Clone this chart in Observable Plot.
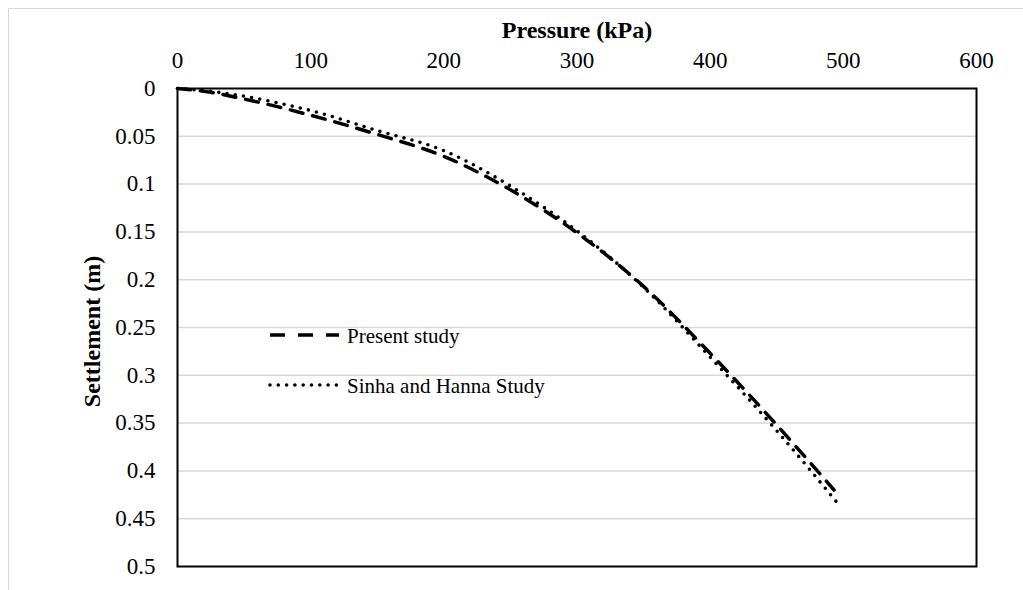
<!DOCTYPE html>
<html>
<head>
<meta charset="utf-8">
<script src="https://cdn.jsdelivr.net/npm/d3@7"></script>
<script src="https://cdn.jsdelivr.net/npm/@observablehq/plot@0.6"></script>
<style>
  html, body { margin: 0; padding: 0; background: #fff; overflow: hidden; }
  #wrap { position: relative; width: 1023px; height: 590px; overflow: hidden; }
  #border { position: absolute; left: 8px; top: 8px; width: 1200px; height: 800px;
            border: 1.5px solid #d9d9d9; box-sizing: border-box; }
  #chart { position: absolute; left: 0; top: 0; }
  #chart svg, #chart svg text { font-family: "Liberation Serif", "Times New Roman", serif !important; }
  #legend { position: absolute; left: 0; top: 0; pointer-events: none; }
</style>
</head>
<body>
<div id="wrap">
  <div id="border"></div>
  <div id="chart"></div>
  <svg id="legend" width="1023" height="590"></svg>
</div>
<script>
// Load–settlement curves: pressure (kPa) vs settlement (m)
const presentPressure = [0, 25, 50, 75, 100, 150, 200, 250, 300, 350, 400, 450, 493];
const presentSettlement = [0, 0.004, 0.011, 0.019, 0.028, 0.048, 0.071, 0.106, 0.151, 0.207, 0.277, 0.352, 0.420];

const sinhaPressure = [0, 25, 50, 75, 100, 150, 200, 250, 300, 350, 400, 450, 497];
const sinhaSettlement = [0, 0.003, 0.008, 0.015, 0.023, 0.044, 0.065, 0.102, 0.149, 0.208, 0.281, 0.358, 0.436];

const seriesNames = ["Present study", "Sinha and Hanna Study"];

const xTicks = [0, 100, 200, 300, 400, 500, 600];
const yTicks = [0, 0.05, 0.1, 0.15, 0.2, 0.25, 0.3, 0.35, 0.4, 0.45, 0.5];

const present = presentPressure.map((p, i) => ({p, s: presentSettlement[i]}));
const sinha = sinhaPressure.map((p, i) => ({p, s: sinhaSettlement[i]}));

const font = "Liberation Serif, Times New Roman, serif";

const chart = Plot.plot({
  width: 1023,
  height: 590,
  marginLeft: 177,
  marginRight: 47,
  marginTop: 88,
  marginBottom: 24,
  style: {fontSize: "23px", color: "#000", background: "transparent", overflow: "visible"},
  x: {domain: [0, 600]},
  y: {domain: [0, 0.5], reverse: true},
  marks: [
    Plot.gridY(yTicks.filter(d => d > 0 && d < 0.5), {stroke: "#d9d9d9", strokeOpacity: 1, strokeWidth: 1.5}),
    Plot.axisX(xTicks, {anchor: "top", tickSize: 0, tickPadding: 21, label: null, tickFormat: d3.format("~g"), fontSize: 23}),
    Plot.axisY(yTicks, {anchor: "left", tickSize: 0, tickPadding: 22, label: null, tickFormat: d3.format("~g"), fontSize: 23}),
    Plot.frame({stroke: "#000", strokeWidth: 2}),
    Plot.line(present, {x: "p", y: "s", curve: "monotone-x", stroke: "#000", strokeWidth: 3.5, strokeDasharray: "13,10"}),
    Plot.line(sinha, {x: "p", y: "s", curve: "monotone-x", stroke: "#000", strokeWidth: 3.6, strokeDasharray: "0,8.3", strokeLinecap: "round"}),
    Plot.text(["Pressure (kPa)"], {frameAnchor: "top", lineAnchor: "middle", dy: -58, fontWeight: "bold", fontSize: 24, fill: "#000"}),
    Plot.text(["Settlement (m)"], {frameAnchor: "left", textAnchor: "middle", lineAnchor: "middle", dx: -85, dy: 4, rotate: -90, fontWeight: "bold", fontSize: 24, fill: "#000"})
  ]
});
document.getElementById("chart").appendChild(chart);

// Legend inside the plot area
const legend = d3.select("#legend");
const styles = [
  {dash: "15,13", cap: "butt", width: 3.5},
  {dash: "0,8.3", cap: "round", width: 3.6}
];
const rows = [335, 385];
seriesNames.forEach((name, i) => {
  legend.append("line")
    .attr("x1", 270).attr("x2", 339).attr("y1", rows[i]).attr("y2", rows[i])
    .attr("stroke", "#000").attr("stroke-width", styles[i].width)
    .attr("stroke-dasharray", styles[i].dash).attr("stroke-linecap", styles[i].cap);
  legend.append("text")
    .attr("x", 347).attr("y", rows[i] + 8)
    .attr("font-family", font).attr("font-size", 21).attr("fill", "#000")
    .text(name);
});
</script>
</body>
</html>
